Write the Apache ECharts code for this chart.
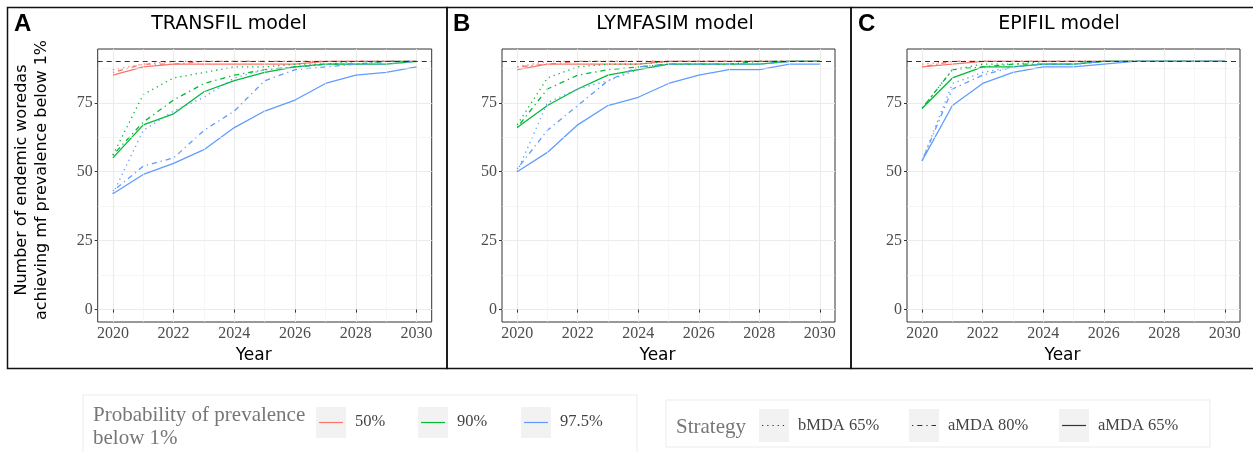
<!DOCTYPE html>
<html>
<head>
<meta charset="utf-8">
<script src="https://cdn.jsdelivr.net/npm/echarts@6/dist/echarts.min.js"></script>
<style>
html,body{margin:0;padding:0;background:#fff;}
#chart{width:1253px;height:452px;}
</style>
</head>
<body>
<div id="chart"></div>
<script>
// ---------- data ----------
const years = [2020, 2021, 2022, 2023, 2024, 2025, 2026, 2027, 2028, 2029, 2030];
const xTickLabels = [2020, 2022, 2024, 2026, 2028, 2030];
const yTickLabels = [0, 25, 50, 75];
const xMinor = [2021, 2023, 2025, 2027, 2029];
const yMinor = [12.5, 37.5, 62.5, 87.5];
const targetWoredas = 90;

const models = ['TRANSFIL model', 'LYMFASIM model', 'EPIFIL model'];
const panelLetters = ['A', 'B', 'C'];
const probabilities = ['50%', '90%', '97.5%'];
const strategies = ['bMDA 65%', 'aMDA 80%', 'aMDA 65%'];

// TRANSFIL
const transfil_50_bMDA65  = [87, 89, 90, 90, 90, 90, 90, 90, 90, 90, 90];
const transfil_50_aMDA80  = [86, 89, 89, 90, 90, 90, 90, 90, 90, 90, 90];
const transfil_50_aMDA65  = [85, 88, 89, 89, 89, 89, 89, 90, 90, 90, 90];
const transfil_90_bMDA65  = [56, 78, 84, 86, 88, 88, 89, 89, 90, 90, 90];
const transfil_90_aMDA80  = [56, 68, 76, 82, 85, 87, 88, 89, 89, 90, 90];
const transfil_90_aMDA65  = [55, 67, 71, 79, 83, 86, 88, 89, 89, 89, 90];
const transfil_975_bMDA65 = [42, 65, 72, 77, 84, 87, 88, 89, 89, 90, 90];
const transfil_975_aMDA80 = [43, 52, 55, 65, 72, 83, 87, 88, 89, 89, 90];
const transfil_975_aMDA65 = [42, 49, 53, 58, 66, 72, 76, 82, 85, 86, 88];

// LYMFASIM
const lymfasim_50_bMDA65  = [88, 90, 90, 90, 90, 90, 90, 90, 90, 90, 90];
const lymfasim_50_aMDA80  = [88, 89, 90, 90, 90, 90, 90, 90, 90, 90, 90];
const lymfasim_50_aMDA65  = [87, 89, 89, 89, 89, 90, 90, 90, 90, 90, 90];
const lymfasim_90_bMDA65  = [67, 84, 88, 89, 89, 90, 90, 90, 90, 90, 90];
const lymfasim_90_aMDA80  = [66, 80, 85, 87, 88, 89, 89, 89, 90, 90, 90];
const lymfasim_90_aMDA65  = [66, 74, 80, 85, 87, 89, 89, 89, 89, 90, 90];
const lymfasim_975_bMDA65 = [50, 75, 80, 83, 87, 89, 89, 89, 89, 90, 90];
const lymfasim_975_aMDA80 = [51, 65, 74, 83, 88, 89, 89, 89, 89, 90, 90];
const lymfasim_975_aMDA65 = [50, 57, 67, 74, 77, 82, 85, 87, 87, 89, 89];

// EPIFIL
const epifil_50_bMDA65  = [89, 90, 90, 90, 90, 90, 90, 90, 90, 90, 90];
const epifil_50_aMDA80  = [88, 90, 90, 90, 90, 90, 90, 90, 90, 90, 90];
const epifil_50_aMDA65  = [88, 89, 90, 90, 90, 90, 90, 90, 90, 90, 90];
const epifil_90_bMDA65  = [73, 87, 89, 89, 90, 90, 90, 90, 90, 90, 90];
const epifil_90_aMDA80  = [73, 87, 88, 89, 89, 89, 90, 90, 90, 90, 90];
const epifil_90_aMDA65  = [73, 84, 88, 88, 89, 89, 90, 90, 90, 90, 90];
const epifil_975_bMDA65 = [54, 82, 86, 88, 89, 89, 90, 90, 90, 90, 90];
const epifil_975_aMDA80 = [54, 80, 85, 88, 89, 89, 90, 90, 90, 90, 90];
const epifil_975_aMDA65 = [54, 74, 82, 86, 88, 88, 89, 90, 90, 90, 90];

const panelData = [
  [[transfil_50_bMDA65, transfil_50_aMDA80, transfil_50_aMDA65],
   [transfil_90_bMDA65, transfil_90_aMDA80, transfil_90_aMDA65],
   [transfil_975_bMDA65, transfil_975_aMDA80, transfil_975_aMDA65]],
  [[lymfasim_50_bMDA65, lymfasim_50_aMDA80, lymfasim_50_aMDA65],
   [lymfasim_90_bMDA65, lymfasim_90_aMDA80, lymfasim_90_aMDA65],
   [lymfasim_975_bMDA65, lymfasim_975_aMDA80, lymfasim_975_aMDA65]],
  [[epifil_50_bMDA65, epifil_50_aMDA80, epifil_50_aMDA65],
   [epifil_90_bMDA65, epifil_90_aMDA80, epifil_90_aMDA65],
   [epifil_975_bMDA65, epifil_975_aMDA80, epifil_975_aMDA65]]
];

// ---------- styles ----------
const probColors = ['#F8766D', '#00BA38', '#619CFF'];
const lw = 1.3;
const strategyDash = [[1.3, 3.9], [1.3, 3.9, 5.2, 3.9], 'solid'];
const serif = '"Liberation Serif", "DejaVu Serif", serif';
const sans = '"DejaVu Sans", sans-serif';

const grids = [
  {left: 97.7, top: 49, width: 334, height: 273},
  {left: 502, top: 49, width: 333, height: 273},
  {left: 907, top: 49, width: 333, height: 273}
];
const panelBoxes = [
  {x: 7.5, w: 439.5},
  {x: 447, w: 404},
  {x: 851, w: 410}
];
const titleCenters = [229, 675, 1059];
const letterX = [14, 453, 858];

const option = {
  animation: false,
  backgroundColor: '#fff',
  grid: grids.map(g => Object.assign({show: true, borderColor: '#333', borderWidth: 1, backgroundColor: '#fff'}, g)),
  xAxis: grids.map((g, i) => ({
    type: 'value', gridIndex: i, min: 2019.5, max: 2030.5,
    axisLine: {show: false},
    axisTick: {show: true, customValues: xTickLabels, length: 3, lineStyle: {color: '#333', width: 1}},
    axisLabel: {customValues: xTickLabels, fontFamily: serif, fontSize: 16, color: '#4d4d4d', margin: 4,
      formatter: v => String(v)},
    splitLine: {show: true, lineStyle: {color: '#ebebeb', width: 1.1}}
  })),
  yAxis: grids.map((g, i) => ({
    type: 'value', gridIndex: i, min: -4.5, max: 94.5,
    axisLine: {show: false},
    axisTick: {show: true, customValues: yTickLabels, length: 3, lineStyle: {color: '#333', width: 1}},
    axisLabel: {customValues: yTickLabels, fontFamily: serif, fontSize: 16, color: '#4d4d4d', margin: 5,
      formatter: v => String(v)},
    splitLine: {show: true, lineStyle: {color: '#ebebeb', width: 1.1}}
  })),
  series: [],
  graphic: []
};

grids.forEach((g, i) => {
  // minor gridlines
  option.series.push({
    type: 'line', xAxisIndex: i, yAxisIndex: i, data: [], z: 1, silent: true,
    markLine: {
      silent: true, symbol: ['none', 'none'], label: {show: false}, animation: false,
      lineStyle: {color: '#f0f0f0', width: 0.6, type: 'solid'},
      data: xMinor.map(v => ({xAxis: v})).concat(yMinor.map(v => ({yAxis: v})))
    }
  });
  // model lines
  for (let p = 0; p < 3; p++) {
    for (let s = 0; s < 3; s++) {
      const vals = panelData[i][p][s];
      option.series.push({
        name: probabilities[p] + ' ' + strategies[s],
        type: 'line', xAxisIndex: i, yAxisIndex: i, z: 3,
        symbol: 'none', silent: true,
        data: years.map((y, k) => [y, vals[k]]),
        lineStyle: {color: probColors[p], width: lw, type: strategyDash[s]}
      });
    }
  }
  // target line
  option.series.push({
    type: 'line', xAxisIndex: i, yAxisIndex: i, data: [], z: 4, silent: true,
    markLine: {
      silent: true, symbol: ['none', 'none'], label: {show: false}, animation: false,
      lineStyle: {color: '#333', width: 1.1, type: [5, 4]},
      data: [{yAxis: targetWoredas}]
    }
  });

  // panel box
  option.graphic.push({
    type: 'rect', shape: {x: panelBoxes[i].x, y: 7.5, width: panelBoxes[i].w, height: 361},
    style: {fill: null, stroke: '#111', lineWidth: 1.5}, z: 10
  });
  // letters
  option.graphic.push({
    type: 'text', left: letterX[i], top: 12,
    style: {text: panelLetters[i], font: 'bold 24px "Liberation Sans", Arial, sans-serif', fill: '#000'}
  });
  // titles
  option.graphic.push({
    type: 'text', x: titleCenters[i], y: 24,
    style: {text: models[i], font: '19px ' + sans, fill: '#000', align: 'center', verticalAlign: 'middle'}
  });
  // x axis title
  option.graphic.push({
    type: 'text', x: g.left + g.width / 2 - 11, y: 356,
    style: {text: 'Year', font: '17px ' + sans, fill: '#000', align: 'center', verticalAlign: 'middle'}
  });
});

// y axis title (panel A)
option.graphic.push({
  type: 'text', x: 22, y: 180, rotation: Math.PI / 2,
  style: {text: 'Number of endemic woredas', font: '16px ' + sans, fill: '#000', align: 'center', verticalAlign: 'middle'}
});
option.graphic.push({
  type: 'text', x: 42, y: 180, rotation: Math.PI / 2,
  style: {text: 'achieving mf prevalence below 1%', font: '16px ' + sans, fill: '#000', align: 'center', verticalAlign: 'middle'}
});

// ---------- legends ----------
const legendTitleFont = '21px ' + serif;
const legendItemFont = '16.5px ' + serif;
// legend 1: probability
option.graphic.push({
  type: 'rect', shape: {x: 83, y: 395, width: 554, height: 62},
  style: {fill: '#fff', stroke: '#ebebeb', lineWidth: 1}
});
option.graphic.push({
  type: 'text', x: 93, y: 415,
  style: {text: 'Probability of prevalence', font: legendTitleFont, fill: '#777', verticalAlign: 'middle'}
});
option.graphic.push({
  type: 'text', x: 93, y: 438,
  style: {text: 'below 1%', font: legendTitleFont, fill: '#777', verticalAlign: 'middle'}
});
const probKeyX = [316, 418, 521];
probabilities.forEach((lab, k) => {
  option.graphic.push({type: 'rect', shape: {x: probKeyX[k], y: 407, width: 30, height: 31}, style: {fill: '#f2f2f2'}});
  option.graphic.push({type: 'line', shape: {x1: probKeyX[k] + 3, y1: 422.5, x2: probKeyX[k] + 27, y2: 422.5},
    style: {stroke: probColors[k], lineWidth: 1.2}});
  option.graphic.push({type: 'text', x: probKeyX[k] + 39, y: 422,
    style: {text: lab, font: legendItemFont, fill: '#444', verticalAlign: 'middle'}});
});

// legend 2: strategy
option.graphic.push({
  type: 'rect', shape: {x: 666, y: 400, width: 544, height: 47},
  style: {fill: '#fff', stroke: '#ebebeb', lineWidth: 1}
});
option.graphic.push({
  type: 'text', x: 676, y: 427,
  style: {text: 'Strategy', font: legendTitleFont, fill: '#777', verticalAlign: 'middle'}
});
const stratKeyX = [759, 909, 1059];
strategies.forEach((lab, k) => {
  option.graphic.push({type: 'rect', shape: {x: stratKeyX[k], y: 409, width: 30, height: 33}, style: {fill: '#f2f2f2'}});
  option.graphic.push({type: 'line', shape: {x1: stratKeyX[k] + 3, y1: 425.5, x2: stratKeyX[k] + 27, y2: 425.5},
    style: {stroke: '#333', lineWidth: 1.2, lineDash: strategyDash[k] === 'solid' ? null : strategyDash[k]}});
  option.graphic.push({type: 'text', x: stratKeyX[k] + 39, y: 426,
    style: {text: lab, font: legendItemFont, fill: '#444', verticalAlign: 'middle'}});
});

const chart = echarts.init(document.getElementById('chart'), null, {renderer: 'canvas'});
chart.setOption(option);
</script>
</body>
</html>
